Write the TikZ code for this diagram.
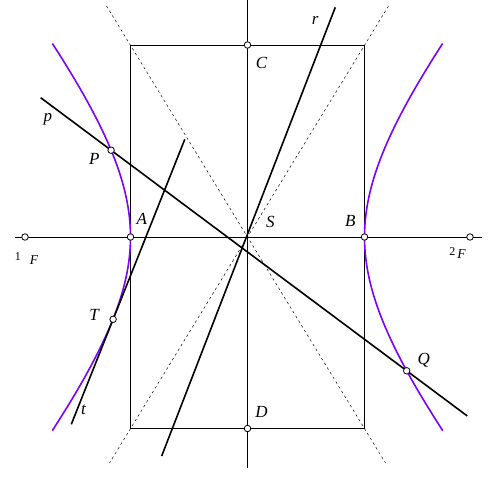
\documentclass[tikz,border=0pt]{standalone}
\usepackage{fontspec}
\setmainfont{Liberation Serif}
\definecolor{hypviolet}{RGB}{128,0,255}
\tikzset{
    axis/.style={line width=0.8pt},
    asym/.style={line width=0.5pt, dash pattern=on 2.5pt off 3pt},
    hyp/.style={hypviolet, line width=1.6pt},
    secant/.style={line width=1.6pt},
    pt/.style={circle, draw, fill=white, line width=0.8pt, minimum size=6.5pt, inner sep=0pt},
    lbl/.style={font=\fontsize{17}{20}\selectfont\itshape, inner sep=0pt},
    flbl/.style={font=\fontsize{13.5}{16}\selectfont\itshape, inner sep=0pt}
}
\begin{document}
\begin{tikzpicture}[x=1pt, y=1pt]

        \useasboundingbox (-247.5, -239) rectangle (249.5, 237);

        \coordinate (xl) at (-232.5, 0);
        \coordinate (xr) at (234.5, 0);
        \coordinate (yt) at (0, 237);
        \coordinate (yb) at (0, -231);
        \draw [axis] (xl) -- (xr);
        \draw [axis] (yt) -- (yb);

        \coordinate (K1) at (-117, 192);
        \coordinate (K3) at (117, -191.5);
        \draw [axis] (K1) rectangle (K3);

        \coordinate (a1) at (-141, 231);
        \coordinate (a2) at (138, -226);
        \coordinate (a3) at (141, 231);
        \coordinate (a4) at (-138, -226);
        \draw [asym] (a1) -- (a2);
        \draw [asym] (a3) -- (a4);

        \draw [hyp] plot [domain = -1.1:1.1, samples = 60] ({-117*cosh(\x)}, {145*sinh(\x)});
        \draw [hyp] plot [domain = -1.1:1.1, samples = 60] ({117*cosh(\x)}, {145*sinh(\x)});

        \coordinate (p1) at (-206.8, 139.3);
        \coordinate (p2) at (219.8, -179);
        \draw [secant] (p1) -- (p2);

        \coordinate (r1) at (87.8, 229.7);
        \coordinate (r2) at (-85.8, -219);
        \draw [secant] (r1) -- (r2);

        \coordinate (t1) at (-62.7, 97.7);
        \coordinate (t2) at (-176.2, -187.3);
        \draw [secant] (t1) -- (t2);

        \node (F1) at (-222.5, 0) [pt] {};
        \node (A) at (-117, 0) [pt] {};
        \node (B) at (117, 0) [pt] {};
        \node (F2) at (222.5, 0) [pt] {};
        \node (C) at (0, 192) [pt] {};
        \node (D) at (0, -191.5) [pt] {};
        \node (P) at (-136.4, 86.8) [pt] {};
        \node (Q) at (159.2, -133.8) [pt] {};
        \node (T) at (-134.4, -82.3) [pt] {};

        \node (lp) at (-199.5, 118) [lbl] {p};
        \node (lP) at (-153.3, 77.8) [lbl] {P};
        \node (lA) at (-105.8, 18.3) [lbl] {A};
        \node (lT) at (-153.3, -77.7) [lbl] {T};
        \node (lt) at (-164, -173) [lbl] {t};
        \node (lC) at (14, 174.5) [lbl] {C};
        \node (lS) at (22.8, 14.8) [lbl] {S};
        \node (lB) at (102.8, 16.2) [lbl] {B};
        \node (lr) at (67.8, 217) [lbl] {r};
        \node (lD) at (14, -174.8) [lbl] {D};
        \node (lQ) at (176.2, -123) [lbl] {Q};
        \node (lF1) at (-221, -21.5) [flbl] {{\upshape\fontsize{12}{14}\selectfont 1}\hspace{9pt}\raisebox{-4.3pt}{F}};
        \node (lF2) at (210, -16) [flbl] {{\upshape\fontsize{12}{14}\selectfont 2}\hspace{2pt}\raisebox{-3pt}{F}};

\end{tikzpicture}
\end{document}
